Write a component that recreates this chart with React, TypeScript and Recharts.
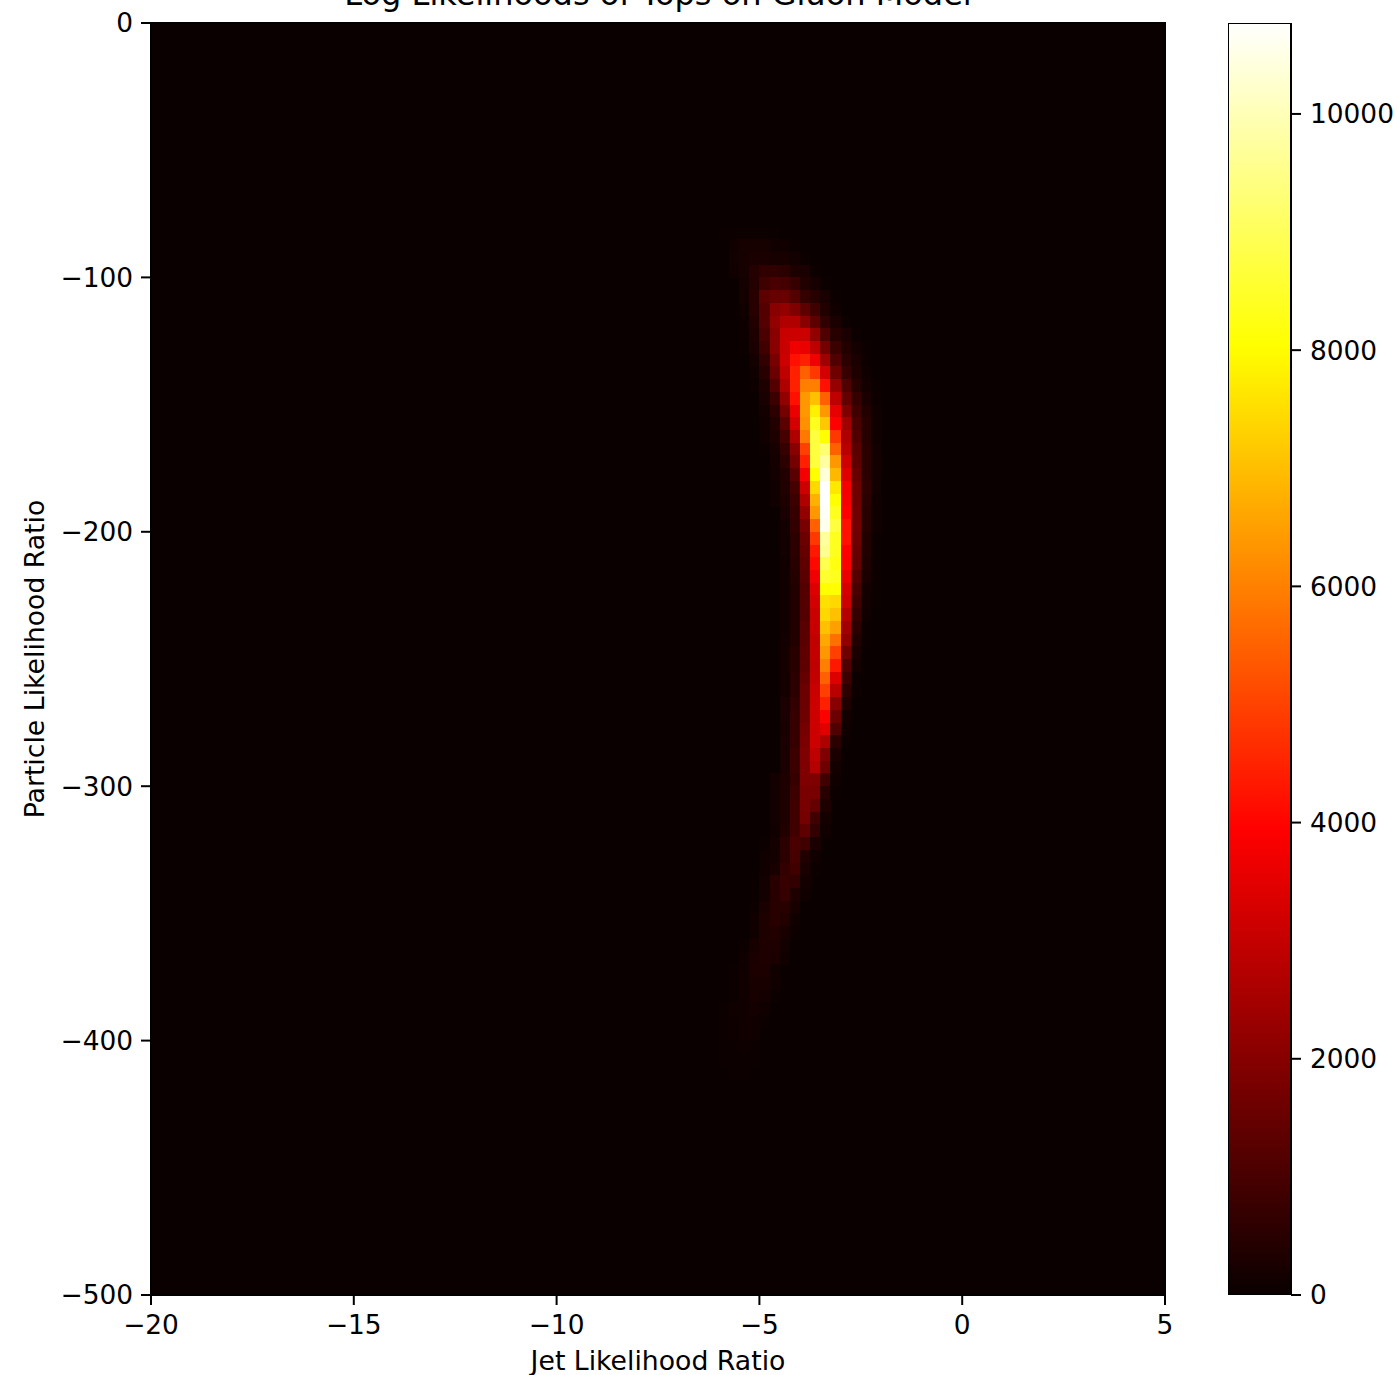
import React from "react";
import {
  Bar,
  BarChart,
  CartesianGrid,
  ReferenceArea,
  Scatter,
  ScatterChart,
  XAxis,
  YAxis
} from "recharts";

const FONT = "DejaVu Sans";
const X_BIN = 0.25;
const Y_BIN = 5;
const COUNT_MAX = 10770;

const xTicks = [-20, -15, -10, -5, 0, 5];
const yTicks = [-500, -400, -300, -200, -100, 0];
const barTicks = [0, 2000, 4000, 6000, 8000, 10000];

// first histogram row that has counts, rows run downward from y = 0
const firstRow = 16;
// x bin index of the first count in each row
const rowStarts = [
  56, 57, 57, 57, 58, 58, 58, 58, 58, 58, 59, 59, 59, 60, 60, 60, 60, 60, 61,
  61, 61, 61, 62, 62, 62, 62, 62, 62, 62, 62, 62, 62, 62, 62, 62, 62, 62, 62,
  62, 62, 62, 62, 62, 61, 61, 61, 61, 61, 60, 60, 60, 60, 60, 59, 59, 59, 58,
  58, 57, 57, 57, 56, 56, 56, 56, 56, 57
];
// counts per row
const rowCounts = [
  [30, 40, 40, 40, 30, 20],
  [120, 180, 180, 180, 100, 100, 40],
  [140, 180, 260, 260, 200, 200, 140, 40],
  [100, 190, 420, 600, 600, 520, 300, 250, 40],
  [170, 430, 850, 1000, 930, 700, 380, 230, 40],
  [170, 470, 1340, 1520, 1520, 1200, 700, 460, 240, 40],
  [100, 470, 1200, 2020, 2180, 1860, 1360, 860, 380, 100],
  [50, 400, 1200, 2180, 2680, 2680, 2020, 1360, 620, 240, 40],
  [50, 320, 1040, 2020, 3045, 3125, 3125, 2180, 1120, 460, 240, 40],
  [20, 240, 880, 2020, 3045, 3690, 3610, 2885, 1700, 780, 380, 170, 40],
  [170, 640, 1780, 3125, 4190, 4445, 3690, 2400, 1120, 520, 240, 40],
  [100, 470, 1540, 2885, 4445, 5475, 4830, 3205, 1620, 700, 310, 100],
  [50, 320, 1200, 2645, 4445, 5990, 5990, 4190, 2240, 1120, 450, 170, 20],
  [240, 800, 2180, 4190, 6375, 7020, 5475, 2885, 1460, 700, 240, 40],
  [170, 550, 1700, 3610, 6375, 7790, 6375, 3530, 1860, 860, 380, 100],
  [100, 400, 1300, 3205, 6245, 8370, 7145, 3930, 2400, 1040, 450, 100],
  [80, 320, 960, 2645, 5860, 8720, 8030, 4830, 2645, 1120, 450, 100],
  [40, 210, 720, 2020, 4960, 8720, 9235, 5475, 2805, 1300, 520, 130],
  [170, 550, 1700, 4445, 8720, 9750, 6375, 3125, 1360, 520, 170],
  [130, 400, 1300, 3770, 8030, 10350, 6890, 3450, 1520, 520, 130],
  [100, 360, 960, 3125, 7400, 10770, 7660, 3770, 1600, 600, 130],
  [80, 320, 800, 2645, 6760, 10770, 8030, 3800, 1600, 520, 100],
  [240, 720, 2180, 6375, 10700, 8370, 3930, 1680, 450, 80],
  [170, 640, 1780, 5475, 10600, 8720, 4190, 1680, 450, 80],
  [130, 550, 1540, 4830, 9750, 8370, 4190, 1600, 380, 40],
  [130, 550, 1460, 4315, 9580, 8370, 3930, 1520, 380, 40],
  [100, 470, 1360, 4060, 8890, 8200, 3850, 1440, 310, 20],
  [100, 420, 1300, 3690, 8545, 8370, 3610, 1200, 240, 20],
  [100, 400, 1200, 3370, 8030, 8030, 3290, 1040, 170, 20],
  [100, 400, 1200, 3205, 7530, 7400, 3125, 880, 130, 20],
  [100, 400, 1200, 3045, 7400, 7020, 2725, 720, 100],
  [100, 400, 1300, 3045, 7020, 6500, 2400, 550, 40],
  [130, 400, 1300, 2965, 6630, 5730, 2160, 400, 20],
  [170, 470, 1360, 2965, 6375, 4960, 1620, 240],
  [170, 470, 1360, 2885, 5990, 4315, 1120, 170],
  [170, 550, 1460, 2965, 5475, 3370, 800, 40],
  [170, 550, 1540, 3045, 4960, 2805, 550, 20],
  [240, 640, 1540, 3125, 4445, 2020, 320],
  [240, 720, 1620, 3125, 3930, 1540, 130],
  [210, 720, 1700, 3125, 3450, 1120, 80],
  [240, 720, 1780, 3125, 2645, 550, 20],
  [240, 800, 1860, 2885, 1860, 240],
  [240, 800, 1860, 2725, 1620, 170],
  [170, 320, 720, 1860, 1860, 880, 100],
  [130, 320, 800, 1780, 1780, 470, 40],
  [130, 320, 880, 1780, 1460, 320],
  [130, 320, 880, 1700, 880, 170],
  [100, 400, 880, 1360, 640, 80],
  [40, 170, 550, 1040, 880, 240],
  [80, 170, 550, 960, 400, 100],
  [80, 210, 640, 880, 240, 40],
  [130, 470, 720, 640, 170],
  [170, 470, 720, 320, 80],
  [40, 240, 470, 470, 210],
  [80, 320, 470, 400, 100],
  [100, 320, 400, 210, 40],
  [40, 210, 320, 320, 130],
  [80, 240, 320, 280, 80],
  [40, 80, 280, 280, 100],
  [40, 80, 210, 210, 80],
  [40, 80, 210, 170, 40],
  [40, 80, 100, 170, 80],
  [20, 60, 80, 100, 40],
  [40, 60, 80, 80],
  [40, 40, 60, 40],
  [40, 40, 40, 20],
  [20, 20]
];

const cells = rowCounts.flatMap((counts, r) =>
  counts.map((count, c) => ({
    x: -20 + (rowStarts[r] + c + 0.5) * X_BIN,
    y: -(firstRow + r + 0.5) * Y_BIN,
    count
  }))
);

const colorbar = [{ name: "counts", value: COUNT_MAX }];

// matplotlib "hot"
function hot(count: number) {
  const t = Math.min(count / COUNT_MAX, 1);
  const r = Math.min(0.0416 + (t / 0.365079) * 0.9584, 1);
  const g = Math.max(Math.min((t - 0.365079) / 0.380953, 1), 0);
  const b = Math.max((t - 0.746032) / 0.253968, 0);
  return `rgb(${Math.round(r * 255)},${Math.round(g * 255)},${Math.round(b * 255)})`;
}

const CELL_W = 1014 / 100;
const CELL_H = 1272 / 100;

function Cell(props: any) {
  const { cx, cy, payload } = props;
  return (
    <rect
      x={cx - CELL_W / 2}
      y={cy - CELL_H / 2}
      width={CELL_W + 0.5}
      height={CELL_H + 0.5}
      fill={hot(payload.count)}
      shapeRendering="crispEdges"
    />
  );
}

const minus = (v: number) => `${v}`.replace("-", "\u2212");
const tickStyle = { fontSize: 26.4, fontFamily: FONT, fill: "#000" };
const lineStyle = { stroke: "#000", strokeWidth: 2 };

export default function App() {
  return (
    <div style={{ position: "absolute", left: 0, top: 0, width: 1397, height: 1375, overflow: "hidden" }}>
      <div style={{ position: "absolute", left: 0, top: 0 }}>
        <ScatterChart
          width={1397}
          height={1375}
          margin={{ top: 23, right: 232, bottom: 0, left: 0 }}
        >
          <CartesianGrid fill="#0a0000" stroke="none" horizontal={false} vertical={false} />
          <XAxis
            type="number"
            dataKey="x"
            domain={[-20, 5]}
            ticks={xTicks}
            interval={0}
            height={80}
            tickSize={10}
            tickMargin={10}
            tick={tickStyle}
            tickLine={lineStyle}
            axisLine={lineStyle}
            tickFormatter={minus}
            label={{
              value: "Jet Likelihood Ratio",
              position: "insideBottom",
              offset: 5,
              fontSize: 26.7,
              fontFamily: FONT,
              fill: "#000"
            }}
          />
          <YAxis
            type="number"
            dataKey="y"
            domain={[-500, 0]}
            ticks={yTicks}
            interval={0}
            width={151}
            tickSize={10}
            tickMargin={8}
            tick={tickStyle}
            tickLine={lineStyle}
            axisLine={lineStyle}
            tickFormatter={minus}
            label={{
              value: "Particle Likelihood Ratio",
              angle: -90,
              position: "insideLeft",
              offset: 35,
              fontSize: 26.7,
              fontFamily: FONT,
              fill: "#000",
              style: { textAnchor: "middle" }
            }}
          />
          <Scatter data={cells} isAnimationActive={false} shape={Cell} />
          <ReferenceArea x1={-20} x2={5} y1={-500} y2={0} fill="none" stroke="#000" strokeWidth={2} />
        </ScatterChart>
      </div>
      <div style={{ position: "absolute", left: 1228, top: 0 }}>
        <BarChart
          width={169}
          height={1375}
          data={colorbar}
          barCategoryGap={0}
          margin={{ top: 23, right: 0, bottom: 80, left: 0 }}
        >
          <defs>
            <linearGradient id="hotBar" x1="0" y1="1" x2="0" y2="0">
              <stop offset="0" stopColor="#0a0000" />
              <stop offset="0.365" stopColor="#ff0000" />
              <stop offset="0.746" stopColor="#ffff00" />
              <stop offset="1" stopColor="#ffffff" />
            </linearGradient>
          </defs>
          <XAxis dataKey="name" hide />
          <YAxis
            orientation="right"
            type="number"
            domain={[0, COUNT_MAX]}
            ticks={barTicks}
            interval={0}
            allowDataOverflow
            width={106}
            tickSize={10}
            tickMargin={9}
            tick={tickStyle}
            tickLine={lineStyle}
            axisLine={false}
          />
          <Bar dataKey="value" fill="url(#hotBar)" stroke="#000" strokeWidth={2} isAnimationActive={false} />
        </BarChart>
      </div>
      <div
        style={{
          position: "absolute",
          left: 151,
          width: 1014,
          top: -30,
          textAlign: "center",
          fontFamily: FONT,
          fontSize: 32,
          lineHeight: "48px",
          whiteSpace: "nowrap",
          color: "#000"
        }}
      >
        Log Likelihoods of Tops on Gluon Model
      </div>
    </div>
  );
}
